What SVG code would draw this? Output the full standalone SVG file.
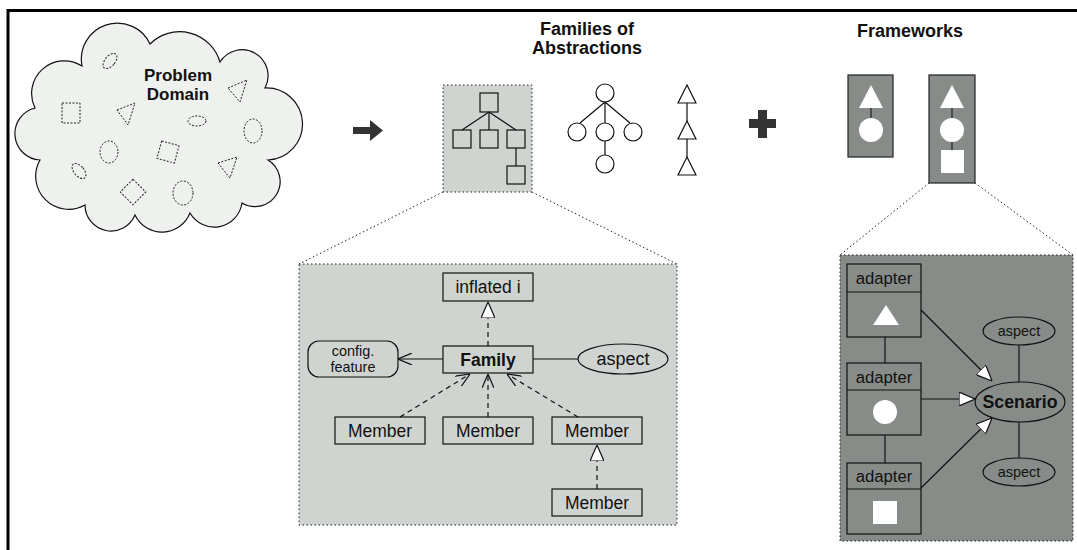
<svg xmlns="http://www.w3.org/2000/svg" width="1077" height="550" viewBox="0 0 1077 550">
<defs>
<style>
text{font-family:"Liberation Sans",Arial,sans-serif;fill:#111;}
.b{font-weight:bold;}
.ln{stroke:#111;stroke-width:1.2;fill:none;}
.dash{stroke:#111;stroke-width:1.2;fill:none;stroke-dasharray:5 4;}
.dot{stroke:#222;stroke-width:1;stroke-dasharray:1.5 2.5;}
.light{fill:#d0d4d0;}
.dark{fill:#888c88;}
.box{fill:none;stroke:#111;stroke-width:1.2;}
.sh{fill:none;stroke:#222;stroke-width:1;stroke-dasharray:2 1.5;}
.wh{fill:#fff;stroke:none;}
</style>
<marker id="tri" viewBox="0 0 16 14" refX="16" refY="7" markerWidth="16" markerHeight="14" markerUnits="userSpaceOnUse" orient="auto">
<path d="M0,0 L16,7 L0,14 Z" fill="#fff" stroke="#111" stroke-width="1.2"/>
</marker>
<marker id="vee" viewBox="0 0 14 12" refX="14" refY="6" markerWidth="14" markerHeight="12" markerUnits="userSpaceOnUse" orient="auto">
<path d="M0,0 L14,6 L0,12" fill="none" stroke="#111" stroke-width="1.2"/>
</marker>
</defs>
<rect width="1077" height="550" fill="#fff"/>
<path d="M8,550 V10.5 H1077" fill="none" stroke="#000" stroke-width="3"/>

<g id="problem-domain">
<path d="M82,66 A36,36 0 0 1 150,44 A42,42 0 0 1 220,62 A26,26 0 0 1 265,88 A36,36 0 0 1 268,160 A25,25 0 0 1 242,203 A28,28 0 0 1 190,213 A30,30 0 0 1 135,215 A26,26 0 0 1 85,205 A33,33 0 0 1 40,160 A26.4,26.4 0 0 1 35,108 A32.7,32.7 0 0 1 82,66 Z" fill="#eef1ee" stroke="#111" stroke-width="1.2"/>
<ellipse cx="110" cy="61" rx="5" ry="9" transform="rotate(40 110 61)" class="sh"/>
<rect x="62" y="103" width="18" height="20" class="sh"/>
<polygon points="117,110 135,103 128,125" class="sh"/>
<polygon points="228,88 247,80 240,102" class="sh"/>
<ellipse cx="197" cy="121" rx="9" ry="5" class="sh"/>
<ellipse cx="253" cy="131" rx="9" ry="12" class="sh"/>
<ellipse cx="109" cy="152" rx="9" ry="11" class="sh"/>
<rect x="159" y="143" width="18" height="18" transform="rotate(15 168 152)" class="sh"/>
<polygon points="218,163 237,157 230,178" class="sh"/>
<ellipse cx="79" cy="171" rx="5" ry="9" transform="rotate(-40 79 171)" class="sh"/>
<rect x="124" y="183" width="18" height="18" transform="rotate(45 133 192)" class="sh"/>
<ellipse cx="183" cy="193" rx="10" ry="12" class="sh"/>
<text x="178" y="81" font-size="17" class="b" text-anchor="middle">Problem</text>
<text x="178" y="100" font-size="17" class="b" text-anchor="middle">Domain</text>
</g>

<g id="arrow-right">
<path d="M353,127 H370 V120 L383,130.5 L370,141 V134 H353 Z" fill="#333"/>
</g>

<g id="families-title">
<text x="587" y="35" font-size="18" class="b" text-anchor="middle">Families of</text>
<text x="587" y="54" font-size="18" class="b" text-anchor="middle">Abstractions</text>
</g>

<g id="family-tree-box">
<rect x="443" y="85" width="89" height="107" class="dot light"/>
<rect x="480" y="93" width="18" height="19" class="box"/>
<rect x="453" y="130" width="18" height="18" class="box"/>
<rect x="480" y="130" width="18" height="18" class="box"/>
<rect x="507" y="130" width="18" height="18" class="box"/>
<rect x="507" y="166" width="18" height="18" class="box"/>
<path d="M489,112 L462,130 M489,112 V130 M489,112 L516,130 M516,148 V166" class="ln"/>
</g>

<g id="circle-tree">
<circle cx="605" cy="93" r="9" class="box"/>
<circle cx="577" cy="132" r="9" class="box"/>
<circle cx="605" cy="132" r="9" class="box"/>
<circle cx="633" cy="132" r="9" class="box"/>
<circle cx="605" cy="164" r="9" class="box"/>
<path d="M605,102 L580,123 M605,102 V123 M605,102 L630,123 M605,141 V155" class="ln"/>
</g>

<g id="triangle-chain">
<polygon points="687,85 696,103 678,103" class="box"/>
<polygon points="687,121 696,139 678,139" class="box"/>
<polygon points="687,157 696,175 678,175" class="box"/>
<path d="M687,103 V121 M687,139 V157" class="ln"/>
</g>

<g id="plus">
<path d="M758,110 H767 V119 H776 V128 H767 V138 H758 V128 H749 V119 H758 Z" fill="#333"/>
</g>

<g id="frameworks-title">
<text x="910" y="37" font-size="18" class="b" text-anchor="middle">Frameworks</text>
</g>

<g id="framework-1">
<rect x="848" y="75" width="45" height="82" class="dark" stroke="#222" stroke-width="1.2"/>
<line x1="871" y1="105" x2="871" y2="122" stroke="#222" stroke-width="1.2"/>
<polygon points="871,85 883,108 859,108" class="wh"/>
<circle cx="871" cy="130" r="12" class="wh"/>
</g>

<g id="framework-2">
<rect x="929" y="75" width="46" height="108" class="dark" stroke="#222" stroke-width="1.2"/>
<line x1="952" y1="105" x2="952" y2="152" stroke="#222" stroke-width="1.2"/>
<polygon points="952,85 964,108 940,108" class="wh"/>
<circle cx="952" cy="130" r="12" class="wh"/>
<rect x="941" y="150" width="23" height="23" class="wh"/>
</g>

<g id="zoom-lines">
<path d="M443,192 L299,264 M532,192 L677,264 M929,183 L840,255 M975,183 L1073,255" class="dot" fill="none"/>
</g>

<g id="family-detail">
<rect x="299" y="264" width="378" height="261" class="dot light"/>
</g>
<g id="inflated-i">
<rect x="443" y="273" width="90" height="28" class="box"/>
<text x="488" y="293" font-size="17.5" text-anchor="middle">inflated i</text>
</g>
<g id="family">
<rect x="443" y="346" width="90" height="27" class="box"/>
<text x="488" y="366" font-size="17.5" class="b" text-anchor="middle">Family</text>
</g>
<g id="config-feature">
<rect x="308" y="341" width="90" height="36" rx="11" class="box"/>
<text x="353" y="356" font-size="14.4" text-anchor="middle">config.</text>
<text x="353" y="372" font-size="14.4" text-anchor="middle">feature</text>
</g>
<g id="aspect-1">
<ellipse cx="623" cy="359" rx="45" ry="15" class="box"/>
<text x="623" y="365" font-size="18" text-anchor="middle">aspect</text>
</g>
<g id="member-1">
<rect x="335" y="417" width="90" height="27" class="box"/>
<text x="380" y="437" font-size="17.5" text-anchor="middle">Member</text>
</g>
<g id="member-2">
<rect x="443" y="417" width="90" height="27" class="box"/>
<text x="488" y="437" font-size="17.5" text-anchor="middle">Member</text>
</g>
<g id="member-3">
<rect x="552" y="417" width="90" height="27" class="box"/>
<text x="597" y="437" font-size="17.5" text-anchor="middle">Member</text>
</g>
<g id="member-4">
<rect x="552" y="489" width="90" height="27" class="box"/>
<text x="597" y="509" font-size="17.5" text-anchor="middle">Member</text>
</g>

<g id="framework-detail">
<rect x="840" y="255" width="233" height="286" class="dot dark"/>
</g>
<g id="adapter-1">
<rect x="847" y="264" width="74" height="73" class="box"/>
<line x1="847" y1="292" x2="921" y2="292" stroke="#111" stroke-width="1.2"/>
<text x="884" y="284" font-size="16.7" text-anchor="middle">adapter</text>
<polygon points="886,305 899,325 873,325" class="wh"/>
</g>
<g id="adapter-2">
<rect x="847" y="363" width="74" height="72" class="box"/>
<line x1="847" y1="390" x2="921" y2="390" stroke="#111" stroke-width="1.2"/>
<text x="884" y="383" font-size="16.7" text-anchor="middle">adapter</text>
<circle cx="885" cy="412" r="12" class="wh"/>
</g>
<g id="adapter-3">
<rect x="847" y="463" width="74" height="71" class="box"/>
<line x1="847" y1="489" x2="921" y2="489" stroke="#111" stroke-width="1.2"/>
<text x="884" y="482" font-size="16.7" text-anchor="middle">adapter</text>
<rect x="873" y="501" width="24" height="23" class="wh"/>
</g>
<g id="scenario">
<ellipse cx="1020" cy="402" rx="45" ry="20" class="box"/>
<text x="1020" y="408" font-size="17.8" class="b" text-anchor="middle">Scenario</text>
</g>
<g id="aspect-2">
<ellipse cx="1019" cy="331" rx="36" ry="14" class="box"/>
<text x="1019" y="336" font-size="14.4" text-anchor="middle">aspect</text>
</g>
<g id="aspect-3">
<ellipse cx="1019" cy="472" rx="36" ry="14" class="box"/>
<text x="1019" y="477" font-size="14.4" text-anchor="middle">aspect</text>
</g>

<g id="connectors">
<line x1="488" y1="346" x2="488" y2="302" class="dash" marker-end="url(#tri)"/>
<line x1="443" y1="359" x2="398" y2="359" class="ln" marker-end="url(#vee)"/>
<line x1="533" y1="359" x2="578" y2="359" class="ln"/>
<line x1="400" y1="417" x2="470" y2="374" class="dash" marker-end="url(#vee)"/>
<line x1="488" y1="417" x2="488" y2="374" class="dash" marker-end="url(#vee)"/>
<line x1="578" y1="417" x2="507" y2="374" class="dash" marker-end="url(#vee)"/>
<line x1="597" y1="489" x2="597" y2="445" class="dash" marker-end="url(#tri)"/>
<line x1="885" y1="337" x2="885" y2="363" class="ln"/>
<line x1="885" y1="435" x2="885" y2="463" class="ln"/>
<line x1="1019" y1="345" x2="1019" y2="382" class="ln"/>
<line x1="1019" y1="422" x2="1019" y2="458" class="ln"/>
<line x1="921" y1="310" x2="992" y2="381" class="ln" marker-end="url(#tri)"/>
<line x1="921" y1="399" x2="975" y2="399" class="ln" marker-end="url(#tri)"/>
<line x1="921" y1="488" x2="992" y2="418" class="ln" marker-end="url(#tri)"/>
</g>
</svg>
